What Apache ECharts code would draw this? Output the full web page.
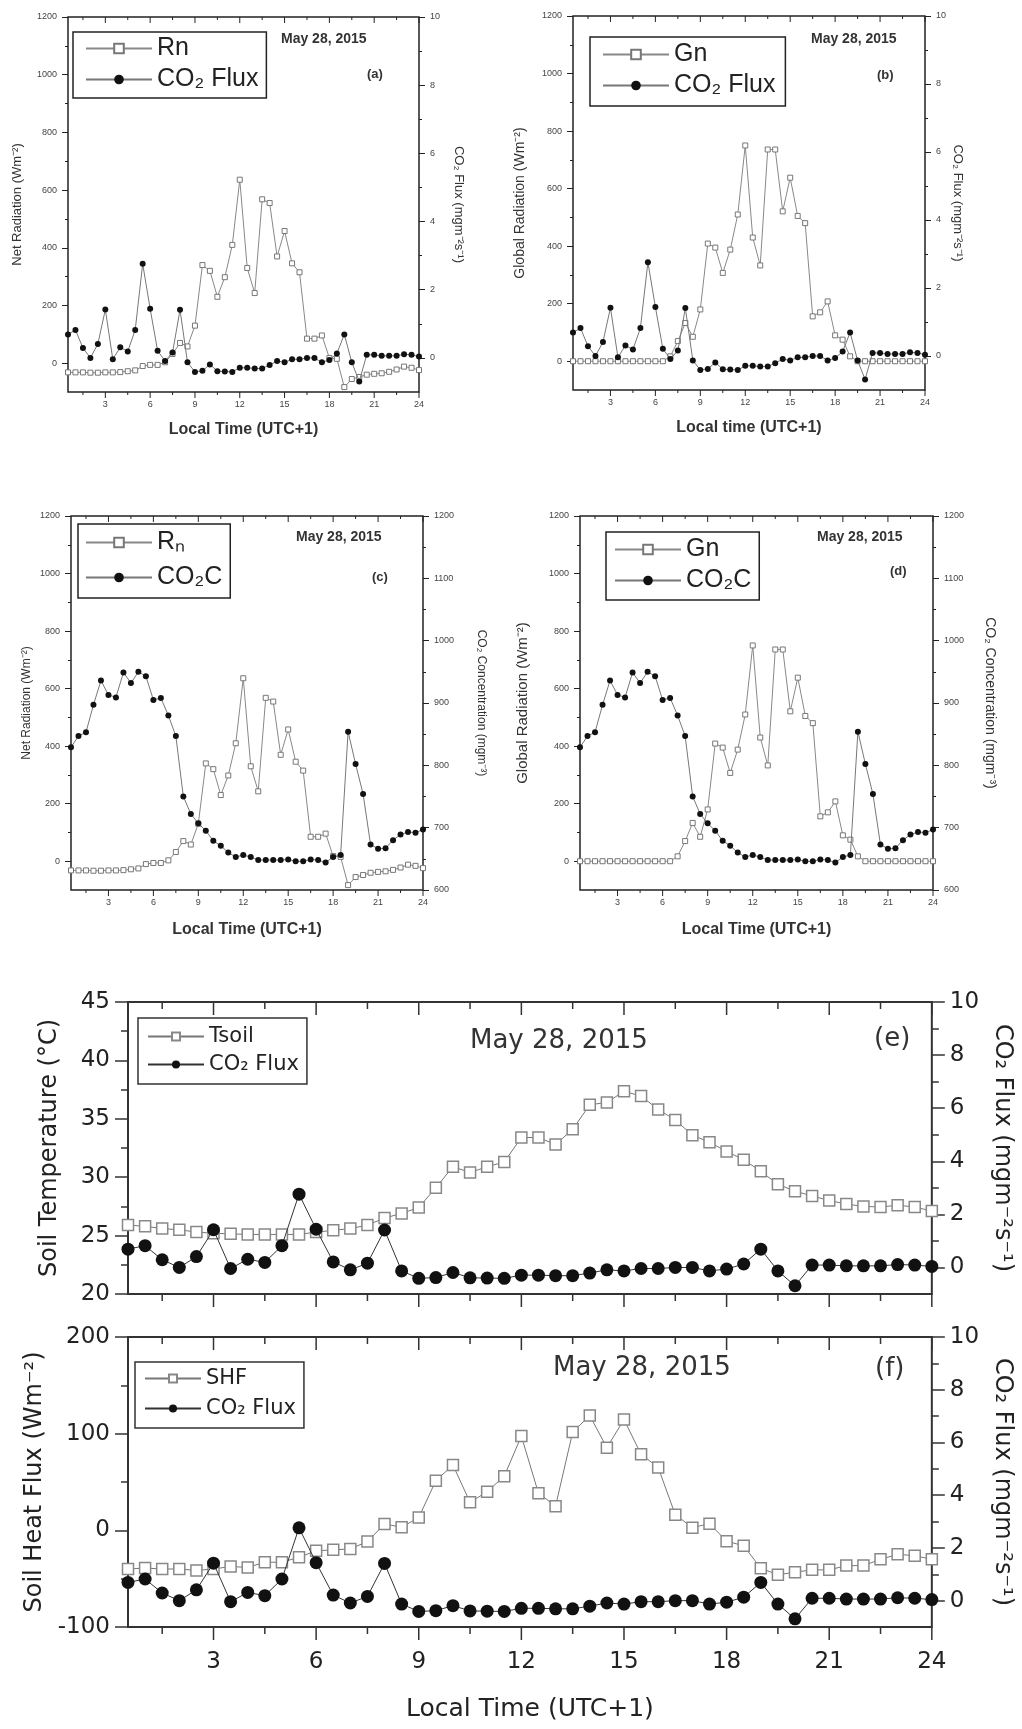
<!DOCTYPE html>
<html>
<head>
<meta charset="utf-8">
<script src="https://cdn.jsdelivr.net/npm/echarts@6/dist/echarts.min.js"></script>
<style>
  html, body { margin: 0; padding: 0; background: #fff; }
  #chart { width: 1022px; height: 1729px; }
</style>
</head>
<body>
<div id="chart"></div>
<script>
const chart = echarts.init(document.getElementById('chart'));

// half-hourly local time (UTC+1)
const hours = [0.5, 1, 1.5, 2, 2.5, 3, 3.5, 4, 4.5, 5, 5.5, 6, 6.5, 7, 7.5, 8,
  8.5, 9, 9.5, 10, 10.5, 11, 11.5, 12, 12.5, 13, 13.5, 14, 14.5, 15, 15.5, 16,
  16.5, 17, 17.5, 18, 18.5, 19, 19.5, 20, 20.5, 21, 21.5, 22, 22.5, 23, 23.5, 24];

const netRadiation = [-32, -32, -32, -33, -33, -32, -32, -31, -28, -25,
  -10, -6, -6, 3, 32, 70, 58, 130, 340, 320,
  230, 298, 410, 636, 330, 243, 568, 555, 370, 458,
  346, 315, 85, 85, 96, 18, 15, -83, -55, -48,
  -40, -37, -35, -30, -22, -12, -16, -24];

const globalRadiation = [0, 0, 0, 0, 0, 0, 0, 0, 0, 0,
  0, 0, 0, 17, 70, 133, 85, 180, 409, 395,
  307, 388, 510, 750, 430, 333, 736, 736, 521, 638,
  505, 480, 156, 170, 208, 90, 75, 17, 0, 0,
  0, 0, 0, 0, 0, 0, 0, 0];

const co2Flux = [0.69, 0.82, 0.29, 0.0, 0.41, 1.42, -0.04, 0.31, 0.19, 0.82,
  2.76, 1.44, 0.21, -0.09, 0.16, 1.41, -0.13, -0.41, -0.38, -0.19,
  -0.39, -0.40, -0.41, -0.29, -0.29, -0.31, -0.31, -0.21, -0.09, -0.13,
  -0.04, -0.04, 0.0, 0.0, -0.13, -0.06, 0.13, 0.69, -0.13, -0.69,
  0.09, 0.09, 0.06, 0.06, 0.06, 0.11, 0.09, 0.04];

const co2Conc = [829, 847, 853, 897, 936, 913, 909, 949, 932, 950,
  943, 905, 908, 880, 847, 750, 722, 707, 695, 679,
  671, 660, 653, 656, 653, 648, 648, 648, 648, 649,
  646, 646, 649, 648, 644, 653, 656, 854, 802, 754,
  673, 666, 667, 680, 689, 693, 692, 697];

const soilTemp = [25.9, 25.8, 25.6, 25.5, 25.3, 25.2, 25.15, 25.1, 25.1, 25.1,
  25.1, 25.3, 25.45, 25.6, 25.9, 26.5, 26.9, 27.4, 29.1, 30.9,
  30.4, 30.9, 31.3, 33.4, 33.4, 32.8, 34.1, 36.2, 36.4, 37.35,
  36.95, 35.8, 34.9, 33.6, 33.0, 32.2, 31.5, 30.5, 29.4, 28.8,
  28.4, 28.0, 27.7, 27.5, 27.45, 27.6, 27.45, 27.1];

const soilHeatFlux = [-40, -39, -40, -40, -41.5, -40, -37.4, -38.4, -33, -33,
  -27.8, -21.2, -20.2, -19.2, -11.6, 6.6, 3.2, 13.2, 51.4, 67.5,
  29, 40, 56, 97.5, 38.4, 25, 101.6, 118.7, 85.5, 114.6,
  78.7, 65, 16.2, 2.8, 6.9, -11.2, -16, -39.2, -46, -43.3,
  -40.9, -40.9, -36.5, -36.5, -30, -24.8, -26.2, -30];

// tick values
const hourTicks = [3, 6, 9, 12, 15, 18, 21, 24];
const hourMinor = [1.5, 4.5, 7.5, 10.5, 13.5, 16.5, 19.5, 22.5];
const radTicks = [0, 200, 400, 600, 800, 1000, 1200];
const radMinor = [100, 300, 500, 700, 900, 1100];
const fluxTicks = [0, 2, 4, 6, 8, 10];
const fluxMinor = [1, 3, 5, 7, 9];
const concTicks = [600, 700, 800, 900, 1000, 1100, 1200];
const concMinor = [650, 750, 850, 950, 1050, 1150];
const tempTicks = [20, 25, 30, 35, 40, 45];
const tempMinor = [22.5, 27.5, 32.5, 37.5, 42.5];
const shfTicks = [-100, 0, 100, 200];
const shfMinor = [-50, 50, 150];

const dateText = 'May 28, 2015';

const smallStyle = {
  font: '"Liberation Sans", Arial, sans-serif',
  frame: '#222', frameW: 1.5, tickColor: '#222', tickW: 1, major: 6, minor: 3,
  tick: 9, tickText: '#444', xMargin: 8, yMargin: 11, title: '#333', xWeight: 'bold',
  sqSize: 5, sqBorder: '#777', sqBorderW: 1, sqLine: '#888',
  dotSize: 6, dotLine: '#777',
  legW: 66, legH: 12, legFont: 25, dateSize: 14, dateWeight: 'bold', tagSize: 13
};
const bigStyle = {
  font: '"DejaVu Sans", sans-serif',
  frame: '#333', frameW: 2, tickColor: '#333', tickW: 1.5, major: 13, minor: 7,
  tick: 23, tickText: '#222', xMargin: 24, yMargin: 18, title: '#222', xWeight: 'normal',
  sqSize: 11, sqBorder: '#888', sqBorderW: 1.5, sqLine: '#777',
  dotSize: 13, dotLine: '#333',
  legW: 56, legH: 10, legFont: 21, dateSize: 26, dateWeight: 'normal', tagSize: 26
};

const panels = [
  { key: 'a', s: smallStyle, box: [68, 17, 419, 392], sq: netRadiation, dot: co2Flux,
    left: { min: -100, max: 1200, major: radTicks, minor: radMinor, name: 'Net Radiation (Wm⁻²)', gap: 44, size: 13 },
    right: { min: -1, max: 10, major: fluxTicks, minor: fluxMinor, name: 'CO₂ Flux (mgm⁻²s⁻¹)', gap: 33, size: 13 },
    xName: 'Local Time (UTC+1)', xGap: 30, xSize: 16, xLabels: true,
    sqName: 'Rn', dotName: 'CO₂ Flux', legend: { left: 73, top: 32, pad: [4, 8, 6, 12], gap: 6 },
    date: [281, 32], tag: [367, 68] },
  { key: 'b', s: smallStyle, box: [573, 16, 925, 390], sq: globalRadiation, dot: co2Flux,
    left: { min: -100, max: 1200, major: radTicks, minor: radMinor, name: 'Global Radiation (Wm⁻²)', gap: 46, size: 14 },
    right: { min: -1, max: 10, major: fluxTicks, minor: fluxMinor, name: 'CO₂ Flux (mgm⁻²s⁻¹)', gap: 26, size: 13 },
    xName: 'Local time (UTC+1)', xGap: 30, xSize: 16, xLabels: true,
    sqName: 'Gn', dotName: 'CO₂ Flux', legend: { left: 590, top: 37, pad: [5, 10, 8, 12], gap: 6 },
    date: [811, 32], tag: [877, 69] },
  { key: 'c', s: smallStyle, box: [71, 516, 423, 890], sq: netRadiation, dot: co2Conc,
    left: { min: -100, max: 1200, major: radTicks, minor: radMinor, name: 'Net Radiation (Wm⁻²)', gap: 38, size: 12 },
    right: { min: 600, max: 1200, major: concTicks, minor: concMinor, name: 'CO₂ Concentration (mgm⁻³)', gap: 52, size: 12 },
    xName: 'Local Time (UTC+1)', xGap: 32, xSize: 16, xLabels: true,
    sqName: 'Rₙ', dotName: 'CO₂C', legend: { left: 78, top: 524, pad: [6, 8, 8, 7], gap: 10 },
    date: [296, 530], tag: [372, 571] },
  { key: 'd', s: smallStyle, box: [580, 516, 933, 890], sq: globalRadiation, dot: co2Conc,
    left: { min: -100, max: 1200, major: radTicks, minor: radMinor, name: 'Global Radiation (Wm⁻²)', gap: 50, size: 15 },
    right: { min: 600, max: 1200, major: concTicks, minor: concMinor, name: 'CO₂ Concentration (mgm⁻³)', gap: 50, size: 14 },
    xName: 'Local Time (UTC+1)', xGap: 32, xSize: 16, xLabels: true,
    sqName: 'Gn', dotName: 'CO₂C', legend: { left: 606, top: 532, pad: [5, 8, 7, 8], gap: 6 },
    date: [817, 530], tag: [890, 565] },
  { key: 'e', s: bigStyle, box: [128, 1002, 945, 1294], sq: soilTemp, dot: co2Flux,
    left: { min: 20, max: 45, major: tempTicks, minor: tempMinor, name: 'Soil Temperature (°C)', gap: 66, size: 24 },
    right: { min: -1, max: 10, major: fluxTicks, minor: fluxMinor, name: 'CO₂ Flux (mgm⁻²s⁻¹)', gap: 40, size: 24 },
    xName: '', xGap: 0, xSize: 24, xLabels: false,
    sqName: 'Tsoil', dotName: 'CO₂ Flux', legend: { left: 138, top: 1018, pad: [8, 8, 9, 9], gap: 7 },
    date: [470, 1028], tag: [874, 1026] },
  { key: 'f', s: bigStyle, box: [128, 1337, 944, 1627], sq: soilHeatFlux, dot: co2Flux,
    left: { min: -100, max: 200, major: shfTicks, minor: shfMinor, name: 'Soil Heat Flux (Wm⁻²)', gap: 76, size: 24 },
    right: { min: -1, max: 10, major: fluxTicks, minor: fluxMinor, name: 'CO₂ Flux (mgm⁻²s⁻¹)', gap: 42, size: 24 },
    xName: 'Local Time (UTC+1)', xGap: 70, xSize: 25, xLabels: true,
    sqName: 'SHF', dotName: 'CO₂ Flux', legend: { left: 135, top: 1362, pad: [6, 8, 9, 9], gap: 9 },
    date: [553, 1355], tag: [875, 1356] }
];

const option = { animation: false, grid: [], xAxis: [], yAxis: [], series: [], legend: [], graphic: [] };

// x-axis tick marks along the bottom (outward) and top (inward) frame edges
const hourTickSeries = (xIndex, yIndex, values, yEdge, len, s) => ({
  type: 'custom', xAxisIndex: xIndex, yAxisIndex: yIndex, silent: true, clip: false, z: 1,
  data: values.map((v) => [v, yEdge]),
  renderItem: (params, api) => {
    const pt = api.coord([api.value(0), api.value(1)]);
    return { type: 'line', shape: { x1: pt[0], y1: pt[1], x2: pt[0], y2: pt[1] + len },
      style: { stroke: s.tickColor, lineWidth: s.tickW } };
  }
});

const addPanel = (p) => {
  const s = p.s;
  const g = option.grid.length;
  const [x0, y0, x1, y1] = p.box;
  option.grid.push({ left: x0, top: y0, width: x1 - x0, height: y1 - y0, show: true,
    borderColor: s.frame, borderWidth: s.frameW });

  const tickLine = { color: s.tickColor, width: s.tickW };
  const xIndex = option.xAxis.length;
  option.xAxis.push({ type: 'value', gridIndex: g, min: 0.5, max: 24, position: 'bottom',
    axisLine: { show: false, onZero: false }, splitLine: { show: false },
    axisTick: { show: false },
    axisLabel: { show: p.xLabels, customValues: hourTicks, margin: s.xMargin, fontSize: s.tick,
      color: s.tickText, fontFamily: s.font, formatter: (v) => String(v) },
    name: p.xName, nameLocation: 'middle', nameGap: p.xGap,
    nameTextStyle: { fontSize: p.xSize, fontFamily: s.font, color: s.title, fontWeight: s.xWeight } });

  const yBase = option.yAxis.length;
  [['left', p.left], ['right', p.right]].forEach(([pos, ax]) => {
    const yCommon = { type: 'value', gridIndex: g, position: pos, min: ax.min, max: ax.max,
      axisLine: { show: false, onZero: false }, splitLine: { show: false } };
    option.yAxis.push({ ...yCommon,
      axisTick: { show: true, customValues: ax.major, length: s.major, lineStyle: tickLine },
      axisLabel: { customValues: ax.major, margin: s.yMargin, fontSize: s.tick, color: s.tickText,
        fontFamily: s.font, formatter: (v) => String(v) },
      name: ax.name, nameLocation: 'middle', nameGap: ax.gap, nameRotate: pos === 'left' ? 90 : -90,
      nameTextStyle: { fontSize: ax.size, fontFamily: s.font, color: s.title } });
    option.yAxis.push({ ...yCommon,
      axisTick: { show: true, customValues: ax.minor, length: s.minor, lineStyle: tickLine },
      axisLabel: { show: false } });
  });

  option.series.push(hourTickSeries(xIndex, yBase, hourTicks, p.left.min, s.major, s));
  option.series.push(hourTickSeries(xIndex, yBase, hourMinor, p.left.min, s.minor, s));
  option.series.push(hourTickSeries(xIndex, yBase, hourTicks, p.left.max, s.major, s));
  option.series.push(hourTickSeries(xIndex, yBase, hourMinor, p.left.max, s.minor, s));

  const sqId = p.key + '-sq';
  const dotId = p.key + '-dot';
  option.series.push({ type: 'line', name: sqId, xAxisIndex: xIndex, yAxisIndex: yBase,
    data: hours.map((h, i) => [h, p.sq[i]]),
    symbol: 'rect', symbolSize: s.sqSize, showAllSymbol: true,
    itemStyle: { color: '#fff', borderColor: s.sqBorder, borderWidth: s.sqBorderW },
    lineStyle: { color: s.sqLine, width: 1 }, z: 2 });
  option.series.push({ type: 'line', name: dotId, xAxisIndex: xIndex, yAxisIndex: yBase + 2,
    data: hours.map((h, i) => [h, p.dot[i]]),
    symbol: 'circle', symbolSize: s.dotSize, showAllSymbol: true,
    itemStyle: { color: '#111' }, lineStyle: { color: s.dotLine, width: 1 }, z: 3 });

  option.legend.push({ orient: 'vertical', left: p.legend.left, top: p.legend.top,
    padding: p.legend.pad, itemGap: p.legend.gap, itemWidth: s.legW, itemHeight: s.legH,
    borderColor: s.frame, borderWidth: 1.5, selectedMode: false,
    data: [sqId, dotId], formatter: (n) => (n === sqId ? p.sqName : p.dotName),
    textStyle: { fontSize: s.legFont, fontFamily: s.font, color: '#222' } });

  option.graphic.push({ type: 'text', left: p.date[0], top: p.date[1],
    style: { text: dateText, fontSize: s.dateSize, fontWeight: s.dateWeight, fontFamily: s.font, fill: '#333' } });
  option.graphic.push({ type: 'text', left: p.tag[0], top: p.tag[1],
    style: { text: '(' + p.key + ')', fontSize: s.tagSize, fontWeight: s.dateWeight, fontFamily: s.font, fill: '#333' } });
};

panels.forEach(addPanel);
chart.setOption(option);
</script>
</body>
</html>
